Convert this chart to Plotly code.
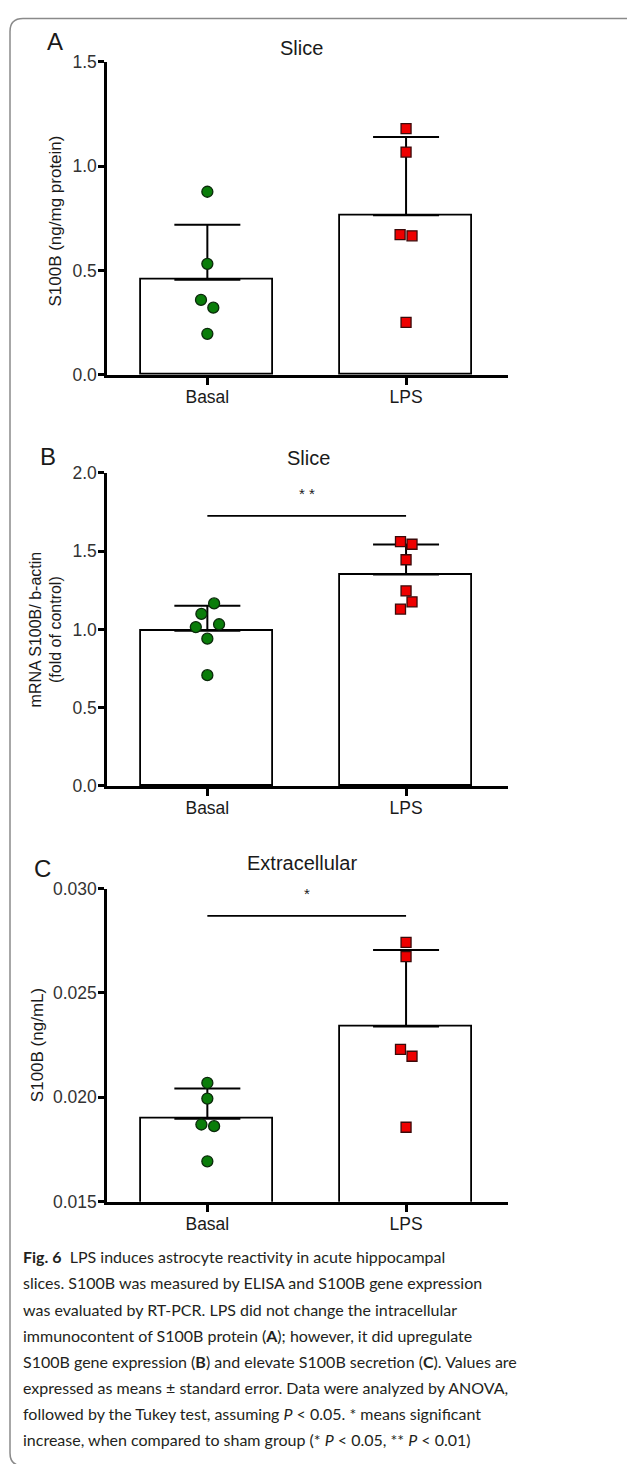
import plotly.graph_objects as go

W, H = 627, 1464

categories = ["Basal", "LPS"]

# Panel A: S100B (ng/mg protein), Slice
a_basal = [0.877, 0.532, 0.359, 0.322, 0.197]
a_lps = [1.179, 1.067, 0.672, 0.666, 0.252]
a_mean = [0.456, 0.765]
a_err = [0.263, 0.374]
a_basal_jit = [0.0, 0.0, -0.032, 0.030, 0.0]
a_lps_jit = [0.0, 0.0, -0.030, 0.030, 0.0]

# Panel B: mRNA S100B / b-actin (fold of control), Slice
b_basal = [1.166, 1.099, 1.015, 1.033, 0.941, 0.708]
b_lps = [1.561, 1.544, 1.445, 1.246, 1.176, 1.130]
b_mean = [0.992, 1.351]
b_err = [0.159, 0.191]
b_basal_jit = [0.034, -0.030, -0.058, 0.059, 0.0, 0.0]
b_lps_jit = [-0.028, 0.030, 0.0, 0.0, 0.030, -0.028]
b_sig = 1.725
b_sig_label = "* *"

# Panel C: S100B (ng/mL), Extracellular
c_basal = [0.02069, 0.01994, 0.01870, 0.01862, 0.01694]
c_lps = [0.02742, 0.02674, 0.02230, 0.02197, 0.01857]
c_mean = [0.01898, 0.02339]
c_err = [0.00145, 0.00367]
c_basal_jit = [0.0, 0.0, -0.030, 0.034, 0.0]
c_lps_jit = [0.0, 0.0, -0.028, 0.030, 0.0]
c_sig = 0.02869
c_sig_label = "*"

caption_lines = [
    "<b>Fig. 6</b>&nbsp;&nbsp;LPS induces astrocyte reactivity in acute hippocampal",
    "slices. S100B was measured by ELISA and S100B gene expression",
    "was evaluated by RT-PCR. LPS did not change the intracellular",
    "immunocontent of S100B protein (<b>A</b>); however, it did upregulate",
    "S100B gene expression (<b>B</b>) and elevate S100B secretion (<b>C</b>). Values are",
    "expressed as means ± standard error. Data were analyzed by ANOVA,",
    "followed by the Tukey test, assuming <i>P</i> < 0.05. * means significant",
    "increase, when compared to sham group (* <i>P</i> < 0.05, ** <i>P</i> < 0.01)",
]

FONT = "Liberation Sans, Arial, sans-serif"
CAPFONT = "Lato, sans-serif"
TXT = "#1a1a1a"


def px(x):
    return x / W


def py(y):
    return 1 - y / H


fig = go.Figure()

panels = [
    dict(basal=a_basal, lps=a_lps, mean=a_mean, err=a_err, bj=a_basal_jit, lj=a_lps_jit,
         sig=None, sigl=None, yr=[0, 1.5], dt=0.5, fmt=".1f", top=52.3, bot=370.0),
    dict(basal=b_basal, lps=b_lps, mean=b_mean, err=b_err, bj=b_basal_jit, lj=b_lps_jit,
         sig=b_sig, sigl=b_sig_label, yr=[0, 2.0], dt=0.5, fmt=".1f", top=469.3, bot=786.7),
    dict(basal=c_basal, lps=c_lps, mean=c_mean, err=c_err, bj=c_basal_jit, lj=c_lps_jit,
         sig=c_sig, sigl=c_sig_label, yr=[0.015, 0.030], dt=0.005, fmt=".3f", top=890.7, bot=1208.3),
]

xpos = [0, 1]
annotations = []
shapes = []

for i, p in enumerate(panels):
    n = "" if i == 0 else str(i + 1)
    xa, ya = "x" + n, "y" + n
    fig.add_trace(go.Bar(
        x=xpos, y=p["mean"], width=0.665,
        marker=dict(color="white", line=dict(color="black", width=1.8)),
        error_y=dict(type="data", array=p["err"], arrayminus=[0, 0], symmetric=False,
                     color="black", thickness=2, width=33),
        xaxis=xa, yaxis=ya, showlegend=False, hoverinfo="skip"))
    if p["sig"] is not None:
        fig.add_trace(go.Scatter(
            x=xpos, y=[p["sig"], p["sig"]], mode="lines",
            line=dict(color="black", width=1.8), xaxis=xa, yaxis=ya,
            showlegend=False, hoverinfo="skip"))
    fig.add_trace(go.Scatter(
        x=[xpos[0] + j for j in p["bj"]], y=p["basal"], mode="markers",
        marker=dict(symbol="circle", size=11, color="#0a7d0a", line=dict(color="#0b2a0b", width=1.3)),
        xaxis=xa, yaxis=ya, showlegend=False, hoverinfo="skip"))
    fig.add_trace(go.Scatter(
        x=[xpos[1] + j for j in p["lj"]], y=p["lps"], mode="markers",
        marker=dict(symbol="square", size=10, color="#ee0000", line=dict(color="#3a0a0a", width=1.3)),
        xaxis=xa, yaxis=ya, showlegend=False, hoverinfo="skip"))

    dom_y = [py(p["bot"]), py(p["top"])]
    fig.update_layout(**{
        ("xaxis" + n): dict(domain=[px(107), px(508)], range=[-0.505, 1.513], anchor=ya,
                            tickvals=xpos, ticktext=categories, showline=True, linecolor="black",
                            linewidth=2.5, ticks="outside", ticklen=7, tickwidth=2.5, tickcolor="black",
                            showgrid=False, zeroline=False, ticklabelstandoff=-3,
                            tickfont=dict(family=FONT, size=17.5, color=TXT)),
        ("yaxis" + n): dict(domain=dom_y, range=p["yr"], dtick=p["dt"], tick0=p["yr"][0], anchor=xa,
                            tickformat=p["fmt"], showline=True, linecolor="black", linewidth=2.5,
                            ticks="outside", ticklen=6, tickwidth=2.5, tickcolor="black",
                            showgrid=False, zeroline=False, ticklabelstandoff=-2,
                            tickfont=dict(family=FONT, size=17.5, color="#333333")),
    })
    if p["sig"] is not None:
        annotations.append(dict(xref=xa, yref=ya, x=0.5, y=p["sig"], yshift=22, text=p["sigl"],
                                showarrow=False, xanchor="center", yanchor="middle",
                                font=dict(family=FONT, size=15, color=TXT)))

# titles, letters, y titles
labels = [
    dict(x=px(301), y=py(39), text="Slice", font=dict(size=20)),
    dict(x=px(55), y=py(32), text="A", font=dict(size=24)),
    dict(x=px(55.5), y=py(214), text="S100B (ng/mg protein)", textangle=-90, font=dict(size=17)),
    dict(x=px(308), y=py(454), text="Slice", font=dict(size=20)),
    dict(x=px(48), y=py(453), text="B", font=dict(size=24)),
    dict(x=px(46), y=py(628), text="mRNA S100B/ b-actin<br>(fold of control)", textangle=-90,
         font=dict(size=16)),
    dict(x=px(302), y=py(865), text="Extracellular", font=dict(size=20)),
    dict(x=px(42), y=py(870), text="C", font=dict(size=24)),
    dict(x=px(37.5), y=py(1050), text="S100B (ng/mL)", textangle=-90, font=dict(size=17)),
]
for a in labels:
    a.update(xref="paper", yref="paper", showarrow=False, xanchor="center", yanchor="middle")
    a["font"].update(family=FONT, color=TXT)
annotations += labels

line_y0 = 1264.0
line_dy = 26.5
for k, t in enumerate(caption_lines):
    annotations.append(dict(xref="paper", yref="paper", x=px(21), y=py(line_y0 + k * line_dy),
                            xanchor="left", yanchor="middle", text=t, showarrow=False,
                            font=dict(family=CAPFONT, size=16, color="#231f20")))

# rounded frame (right and bottom edges run off the page)
r = 13
x0f, y0f, x1f, y1f = 10, 8.7, 660, 1476
path = (f"M {px(x0f)},{py(y0f + r)} Q {px(x0f)},{py(y0f)} {px(x0f + r)},{py(y0f)} "
        f"L {px(x1f)},{py(y0f)} L {px(x1f)},{py(y1f)} L {px(x0f + r)},{py(y1f)} "
        f"Q {px(x0f)},{py(y1f)} {px(x0f)},{py(y1f - r)} Z")
shapes.append(dict(type="path", xref="paper", yref="paper", path=path,
                   line=dict(color="#8a8a8a", width=1.5), fillcolor="rgba(0,0,0,0)", layer="below"))

fig.update_layout(width=W, height=H, margin=dict(l=0, r=0, t=0, b=0),
                  paper_bgcolor="white", plot_bgcolor="white",
                  annotations=annotations, shapes=shapes, bargap=0)

fig.write_html("out.html")
